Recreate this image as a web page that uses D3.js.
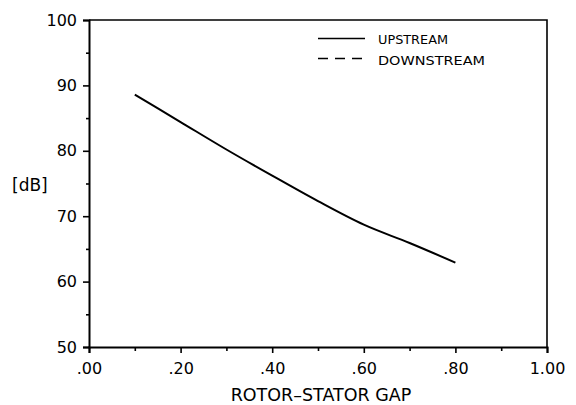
<!DOCTYPE html>
<html>
<head>
<meta charset="utf-8">
<script src="https://cdn.jsdelivr.net/npm/d3@7"></script>
<style>
  html, body { margin: 0; padding: 0; background: #fff; }
  svg { display: block; }
  text { font-family: "DejaVu Sans", sans-serif; fill: #000; }
</style>
</head>
<body>
<svg id="chart" width="576" height="405"></svg>
<script>
// Rotor-stator gap (fraction) and measured level [dB]
const gap = [0.10, 0.20, 0.30, 0.40, 0.50, 0.60, 0.70, 0.80];
const upstream = [88.6, 84.4, 80.2, 76.2, 72.3, 68.7, 65.9, 62.9];

const xTicks = [0, 0.2, 0.4, 0.6, 0.8, 1.0];
const xMinorTicks = [0.1, 0.3, 0.5, 0.7, 0.9];
const yTicks = [50, 60, 70, 80, 90, 100];
const yMinorTicks = [55, 65, 75, 85, 95];
const legendLabels = ["UPSTREAM", "DOWNSTREAM"];

const svg = d3.select("#chart");
const margin = { left: 89, top: 20, right: 29, bottom: 58 };
const W = 576, H = 405;

const x = d3.scaleLinear().domain([0, 1]).range([margin.left, W - margin.right]);
const y = d3.scaleLinear().domain([50, 100]).range([H - margin.bottom, margin.top]);

// frame (top and right)
svg.append("path")
  .attr("d", `M${x(0)},${y(100)}H${x(1)}V${y(50)}`)
  .attr("fill", "none").attr("stroke", "#000").attr("stroke-width", 1.6);

const fmtX = v => d3.format(".2f")(v).replace(/^0/, "");

// x axis: minor ticks then major ticks with labels
svg.append("g").attr("transform", `translate(0,${y(50)})`)
  .call(d3.axisBottom(x).tickValues(xMinorTicks).tickSize(4).tickFormat(""))
  .call(g => g.select(".domain").remove())
  .call(g => g.selectAll("line").attr("stroke-width", 1.6));
svg.append("g").attr("transform", `translate(0,${y(50)})`)
  .call(d3.axisBottom(x).tickValues(xTicks).tickSize(6).tickPadding(10).tickFormat(fmtX))
  .call(g => g.select(".domain").attr("stroke-width", 2))
  .call(g => g.selectAll("line").attr("stroke-width", 1.6))
  .call(g => g.selectAll("text").attr("font-size", 16).attr("font-family", "DejaVu Sans"));

// y axis: minor ticks then major ticks with labels
svg.append("g").attr("transform", `translate(${x(0)},0)`)
  .call(d3.axisLeft(y).tickValues(yMinorTicks).tickSize(3).tickFormat(""))
  .call(g => g.select(".domain").remove())
  .call(g => g.selectAll("line").attr("stroke-width", 1.6));
svg.append("g").attr("transform", `translate(${x(0)},0)`)
  .call(d3.axisLeft(y).tickValues(yTicks).tickSize(6).tickPadding(6).tickFormat(d3.format("d")))
  .call(g => g.select(".domain").attr("stroke-width", 2))
  .call(g => g.selectAll("line").attr("stroke-width", 1.6))
  .call(g => g.selectAll("text").attr("font-size", 16).attr("font-family", "DejaVu Sans"));

// axis titles
svg.append("text").attr("x", 321).attr("y", 401)
  .attr("text-anchor", "middle").attr("font-size", 17.5)
  .text("ROTOR–STATOR GAP");
svg.append("text").attr("x", 12).attr("y", 191)
  .attr("font-size", 17)
  .text("[dB]");

// measured curve
const line = d3.line()
  .x((d, i) => x(gap[i]))
  .y(d => y(d))
  .curve(d3.curveMonotoneX);
svg.append("path")
  .attr("d", line(upstream))
  .attr("fill", "none").attr("stroke", "#000").attr("stroke-width", 2);

// legend
const legend = svg.append("g");
const legendRows = [
  { label: legendLabels[0], dash: null, ly: 38.5, ty: 44.3, len: 70 },
  { label: legendLabels[1], dash: "10,7", ly: 58.5, ty: 65, len: 107 }
];
legendRows.forEach(r => {
  legend.append("line")
    .attr("x1", 318).attr("x2", 365).attr("y1", r.ly).attr("y2", r.ly)
    .attr("stroke", "#000").attr("stroke-width", 1.6)
    .attr("stroke-dasharray", r.dash);
  legend.append("text")
    .attr("x", 378).attr("y", r.ty)
    .attr("font-size", 11.5)
    .attr("textLength", r.len).attr("lengthAdjust", "spacingAndGlyphs")
    .text(r.label);
});
</script>
</body>
</html>
